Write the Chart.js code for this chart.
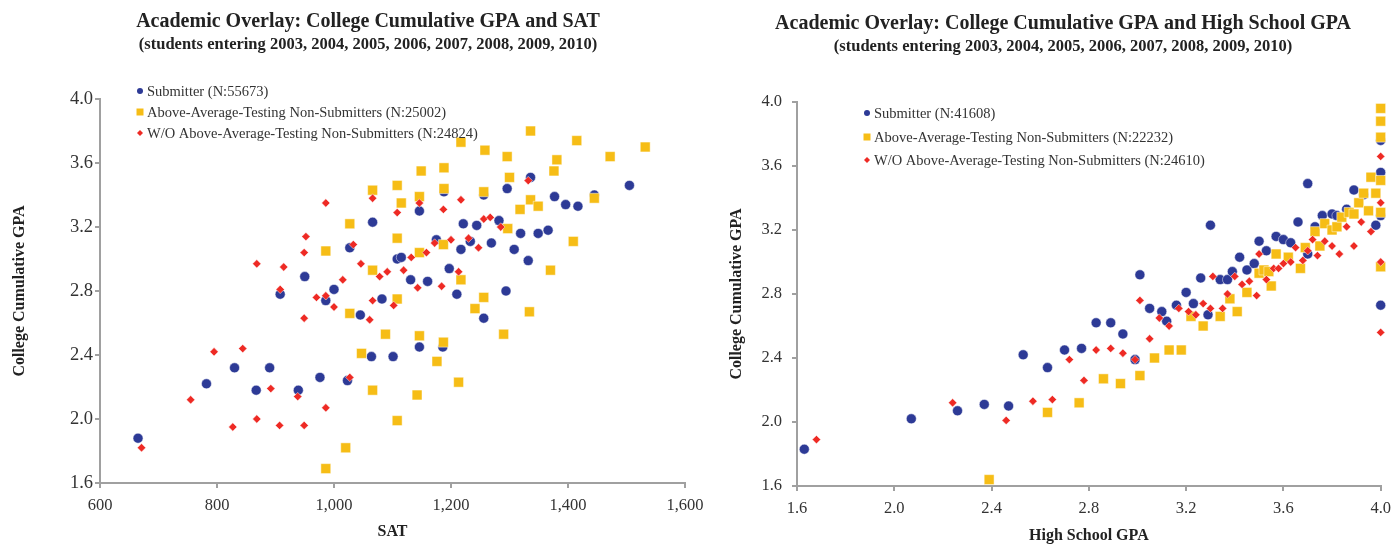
<!DOCTYPE html>
<html>
<head>
<meta charset="utf-8">
<script src="https://cdn.jsdelivr.net/npm/chart.js@4.4.1/dist/chart.umd.min.js"></script>
<style>
  html, body { margin: 0; padding: 0; background: #fff; }
  #wrap { position: relative; width: 1395px; height: 545px; overflow: hidden; }
  canvas { position: absolute; top: 0; }
  #chartSat { left: 0; }
  #chartHs  { left: 697px; }
</style>
</head>
<body>
<div id="wrap">
  <canvas id="chartSat" width="730" height="545"></canvas>
  <canvas id="chartHs" width="702" height="545"></canvas>
</div>
<script>
// ─── Data ─────────────────────────────────────────────────────────────────────

const SERIES_SAT = [
  "Submitter (N:55673)",
  "Above-Average-Testing Non-Submitters (N:25002)",
  "W/O Above-Average-Testing Non-Submitters (N:24824)",
];
const SERIES_HS = [
  "Submitter (N:41608)",
  "Above-Average-Testing Non-Submitters (N:22232)",
  "W/O Above-Average-Testing Non-Submitters (N:24610)",
];

const TITLE_SAT = "Academic Overlay: College Cumulative GPA and SAT";
const TITLE_HS  = "Academic Overlay: College Cumulative GPA and High School GPA";
const SUBTITLE  = "(students entering 2003, 2004, 2005, 2006, 2007, 2008, 2009, 2010)";

const SAT_TICKS   = [600, 800, 1000, 1200, 1400, 1600];
const HSGPA_TICKS = [1.6, 2.0, 2.4, 2.8, 3.2, 3.6, 4.0];
const GPA_TICKS   = [1.6, 2.0, 2.4, 2.8, 3.2, 3.6, 4.0];

// [SAT, college GPA]
const satSubmitter = [
  [665,1.88],[782,2.22],[830,2.32],[867,2.18],[890,2.32],[908,2.78],[939,2.18],[950,2.89],
  [976,2.26],[986,2.74],[1000,2.81],[1023,2.24],[1027,3.07],[1045,2.65],[1064,2.39],[1066,3.23],
  [1082,2.75],[1101,2.39],[1108,3.00],[1115,3.01],[1131,2.87],[1146,2.45],[1146,3.30],[1160,2.86],
  [1175,3.12],[1186,2.45],[1188,3.42],[1197,2.94],[1210,2.78],[1217,3.06],[1221,3.22],[1233,3.11],
  [1244,3.21],[1256,2.63],[1256,3.40],[1269,3.10],[1282,3.24],[1294,2.80],[1296,3.44],[1308,3.06],
  [1319,3.16],[1332,2.99],[1336,3.51],[1349,3.16],[1366,3.18],[1377,3.39],[1396,3.34],[1417,3.33],
  [1445,3.40],[1505,3.46],
];
const satAboveAvg = [
  [986,1.69],[986,3.05],[1020,1.82],[1027,2.66],[1027,3.22],[1047,2.41],[1066,2.18],[1066,2.93],
  [1066,3.43],[1088,2.53],[1108,1.99],[1108,2.75],[1108,3.13],[1108,3.46],[1115,3.35],[1142,2.15],
  [1146,2.52],[1146,3.04],[1146,3.39],[1149,3.55],[1176,2.36],[1187,2.48],[1187,3.09],[1188,3.44],
  [1188,3.57],[1213,2.23],[1217,2.87],[1217,3.73],[1241,2.69],[1256,2.76],[1256,3.42],[1258,3.68],
  [1290,2.53],[1296,3.64],[1297,3.19],[1300,3.51],[1318,3.31],[1334,2.67],[1336,3.37],[1336,3.80],
  [1349,3.33],[1370,2.93],[1376,3.55],[1381,3.62],[1409,3.11],[1415,3.74],[1445,3.38],[1472,3.64],
  [1532,3.70],
];
const satWithout = [
  [671,1.82],[755,2.12],[795,2.42],[827,1.95],[844,2.44],[868,2.00],[868,2.97],[892,2.19],
  [907,1.96],[908,2.81],[914,2.95],[938,2.14],[949,1.96],[949,2.63],[949,3.04],[952,3.14],
  [970,2.76],[986,2.07],[986,2.77],[986,3.35],[1000,2.70],[1015,2.87],[1027,2.26],[1033,3.09],
  [1046,2.97],[1061,2.62],[1066,2.74],[1066,3.38],[1078,2.89],[1091,2.92],[1102,2.71],[1108,3.29],
  [1119,2.93],[1132,3.01],[1143,2.82],[1146,3.35],[1158,3.04],[1172,3.10],[1184,2.83],[1187,3.31],
  [1200,3.12],[1213,2.92],[1217,3.37],[1230,3.13],[1247,3.07],[1256,3.25],[1267,3.26],[1285,3.20],
  [1332,3.49],
];

// [high school GPA, college GPA]
const hsSubmitter = [
  [1.63,1.83],[2.07,2.02],[2.26,2.07],[2.37,2.11],[2.47,2.10],[2.53,2.42],[2.63,2.34],[2.70,2.45],
  [2.77,2.46],[2.83,2.62],[2.89,2.62],[2.94,2.55],[2.99,2.39],[3.01,2.92],[3.05,2.71],[3.10,2.69],
  [3.12,2.63],[3.16,2.73],[3.20,2.81],[3.23,2.74],[3.26,2.90],[3.29,2.67],[3.30,3.23],[3.34,2.89],
  [3.37,2.89],[3.39,2.94],[3.42,3.03],[3.45,2.95],[3.48,2.99],[3.50,3.13],[3.53,3.07],[3.57,3.16],
  [3.60,3.14],[3.63,3.12],[3.66,3.25],[3.70,3.05],[3.70,3.49],[3.73,3.22],[3.76,3.29],[3.80,3.30],
  [3.82,3.29],[3.86,3.33],[3.89,3.45],[3.93,3.42],[3.98,3.23],[4.0,2.73],[4.0,3.29],[4.0,3.56],
  [4.0,3.76],
];
const hsAboveAvg = [
  [2.39,1.64],[2.63,2.06],[2.76,2.12],[2.86,2.27],[2.93,2.24],[3.01,2.29],[3.07,2.40],[3.13,2.45],
  [3.18,2.45],[3.22,2.66],[3.27,2.60],[3.34,2.66],[3.38,2.77],[3.41,2.69],[3.45,2.81],[3.50,2.93],
  [3.52,2.95],[3.54,2.94],[3.55,2.85],[3.57,3.05],[3.62,3.03],[3.67,2.96],[3.69,3.09],[3.73,3.19],
  [3.75,3.10],[3.77,3.24],[3.80,3.20],[3.82,3.22],[3.84,3.28],[3.87,3.31],[3.89,3.30],[3.91,3.37],
  [3.93,3.43],[3.95,3.32],[3.96,3.53],[3.98,3.43],[4.0,2.97],[4.0,3.31],[4.0,3.51],[4.0,3.78],
  [4.0,3.88],[4.0,3.96],
];
const hsWithout = [
  [1.68,1.89],[2.24,2.12],[2.46,2.01],[2.57,2.13],[2.65,2.14],[2.72,2.39],[2.78,2.26],[2.83,2.45],
  [2.89,2.46],[2.94,2.43],[2.99,2.39],[3.01,2.76],[3.05,2.52],[3.09,2.65],[3.13,2.60],[3.17,2.71],
  [3.21,2.69],[3.24,2.67],[3.27,2.74],[3.30,2.71],[3.31,2.91],[3.35,2.71],[3.37,2.80],[3.40,2.91],
  [3.43,2.86],[3.46,2.88],[3.49,2.79],[3.50,3.05],[3.53,2.89],[3.56,2.96],[3.58,2.96],[3.60,2.99],
  [3.63,3.00],[3.65,3.09],[3.68,3.01],[3.70,3.07],[3.72,3.14],[3.74,3.04],[3.77,3.13],[3.80,3.10],
  [3.83,3.05],[3.86,3.22],[3.89,3.10],[3.92,3.25],[3.96,3.19],[4.0,2.56],[4.0,3.00],[4.0,3.37],
  [4.0,3.66],
];

// ─── Style ────────────────────────────────────────────────────────────────────

const SERIF      = "'Liberation Serif', 'DejaVu Serif', serif";
const BLUE       = "#2d3a96";
const YELLOW     = "#f6bd16";
const RED        = "#ee2a24";
const TEXT_DARK  = "#222";
const TICK_TEXT  = "#333";
const AXIS_COLOR = "#a0a0a0";

// ─── Helpers ──────────────────────────────────────────────────────────────────

const toPoints = (pairs) => pairs.map(([x, y]) => ({ x, y }));

function drawMarker(ctx, kind, x, y, s) {
  ctx.beginPath();
  if (kind === "circle") {
    ctx.fillStyle = BLUE;
    ctx.arc(x, y, s, 0, Math.PI * 2);
  } else if (kind === "rect") {
    ctx.fillStyle = YELLOW;
    ctx.rect(x - s, y - s, s * 2, s * 2);
  } else {
    ctx.fillStyle = RED;
    ctx.moveTo(x, y - s); ctx.lineTo(x + s, y); ctx.lineTo(x, y + s); ctx.lineTo(x - s, y);
    ctx.closePath();
  }
  ctx.fill();
}

// titles and inner legend, drawn on top of the chart
const overlayPlugin = {
  id: "overlay",
  afterDraw(chart, _args, o) {
    const { ctx } = chart;
    ctx.save();
    ctx.fillStyle = TEXT_DARK;
    ctx.textAlign = "center";
    ctx.textBaseline = "middle";
    ctx.font = `bold 20px ${SERIF}`;
    ctx.fillText(o.title, o.titleX, o.titleY);
    ctx.font = `bold 16.5px ${SERIF}`;
    ctx.fillText(o.subtitle, o.titleX, o.subtitleY);

    const kinds = ["circle", "rect", "diamond"];
    const sizes = [3, 3.5, 3];
    ctx.font = `14.5px ${SERIF}`;
    ctx.textAlign = "left";
    o.labels.forEach((label, i) => {
      const y = o.legendY[i];
      drawMarker(ctx, kinds[i], o.legendX, y, sizes[i]);
      ctx.fillStyle = TICK_TEXT;
      ctx.fillText(label, o.legendX + 7, y + 1);
    });
    ctx.restore();
  },
};

function buildDatasets(labels, blue, yellow, red) {
  const common = { clip: false, borderColor: "rgba(255,255,255,0.6)", borderWidth: 0.8 };
  return [
    { ...common, label: labels[0], data: toPoints(blue),   order: 3, pointStyle: "circle",  radius: 5,   backgroundColor: BLUE },
    { ...common, label: labels[1], data: toPoints(yellow), order: 2, pointStyle: "rect",    radius: 7,   backgroundColor: YELLOW },
    { ...common, label: labels[2], data: toPoints(red),    order: 1, pointStyle: "rectRot", radius: 4.2, backgroundColor: RED },
  ];
}

function buildScales(cfg) {
  const tickFont = (size) => ({ family: SERIF, size });
  return {
    x: {
      type: "linear",
      min: cfg.xTicks[0],
      max: cfg.xTicks[cfg.xTicks.length - 1],
      afterBuildTicks: (s) => { s.ticks = cfg.xTicks.map((v) => ({ value: v })); },
      afterFit: (s) => { s.height = cfg.xHeight; },
      ticks: { color: TICK_TEXT, font: tickFont(cfg.xTickSize), padding: 8, maxRotation: 0, callback: cfg.xFormat },
      grid: { drawOnChartArea: false, drawTicks: true, tickLength: 5, color: AXIS_COLOR, lineWidth: 2 },
      border: { display: true, color: AXIS_COLOR, width: 2 },
      title: { display: true, text: cfg.xTitle, color: TEXT_DARK, font: { family: SERIF, size: 16, weight: "bold" }, padding: { top: 0, bottom: cfg.xTitlePad } },
    },
    y: {
      type: "linear",
      min: GPA_TICKS[0],
      max: GPA_TICKS[GPA_TICKS.length - 1],
      afterBuildTicks: (s) => { s.ticks = GPA_TICKS.map((v) => ({ value: v })); },
      afterFit: (s) => { s.width = 100; },
      ticks: { color: TICK_TEXT, font: tickFont(cfg.yTickSize), padding: cfg.yTickPad, callback: (v) => v.toFixed(1) },
      grid: { drawOnChartArea: false, drawTicks: true, tickLength: 5, color: AXIS_COLOR, lineWidth: 2 },
      border: { display: true, color: AXIS_COLOR, width: 2 },
      title: { display: true, text: "College Cumulative GPA", color: TEXT_DARK, font: { family: SERIF, size: 16, weight: "bold" }, padding: { top: cfg.yTitlePad, bottom: 0 } },
    },
  };
}

function makeChart(id, cfg) {
  return new Chart(document.getElementById(id), {
    type: "scatter",
    data: { datasets: buildDatasets(cfg.labels, cfg.blue, cfg.yellow, cfg.red) },
    options: {
      responsive: false,
      animation: false,
      layout: { padding: { left: 0, top: cfg.top, right: cfg.right, bottom: 0 } },
      plugins: {
        legend: { display: false },
        tooltip: { enabled: false },
        overlay: cfg.overlay,
      },
      scales: buildScales(cfg),
    },
    plugins: [overlayPlugin],
  });
}

// ─── Charts ───────────────────────────────────────────────────────────────────

makeChart("chartSat", {
  labels: SERIES_SAT, blue: satSubmitter, yellow: satAboveAvg, red: satWithout,
  xTicks: SAT_TICKS, xFormat: (v) => v.toLocaleString("en-US"), xTitle: "SAT",
  top: 99, right: 45, xHeight: 62, xTitlePad: 4, xTickSize: 16.5,
  yTickSize: 18.5, yTickPad: 2, yTitlePad: 10,
  overlay: {
    title: TITLE_SAT, subtitle: SUBTITLE, titleX: 368, titleY: 22, subtitleY: 45,
    labels: SERIES_SAT, legendX: 140, legendY: [91, 112, 133],
  },
});

makeChart("chartHs", {
  labels: SERIES_HS, blue: hsSubmitter, yellow: hsAboveAvg, red: hsWithout,
  xTicks: HSGPA_TICKS, xFormat: (v) => v.toFixed(1), xTitle: "High School GPA",
  top: 102, right: 10, xHeight: 59, xTitlePad: 0, xTickSize: 16.5,
  yTickSize: 16.5, yTickPad: 10, yTitlePad: 30,
  overlay: {
    title: TITLE_HS, subtitle: SUBTITLE, titleX: 366, titleY: 24, subtitleY: 47,
    labels: SERIES_HS, legendX: 170, legendY: [113, 137, 160],
  },
});
</script>
</body>
</html>
